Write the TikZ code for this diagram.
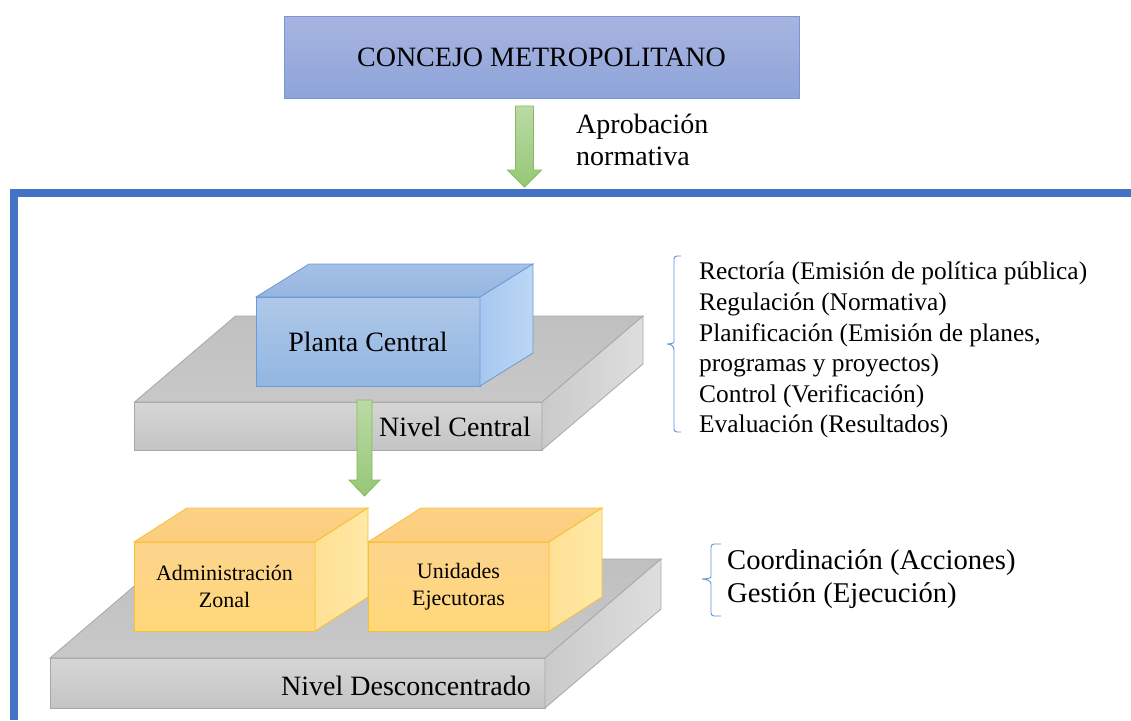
\documentclass[tikz,border=0pt]{standalone}
\usepackage{fontspec}
\setmainfont{Liberation Serif}
\usetikzlibrary{calc}
\definecolor{frameblue}{RGB}{68,114,196}
\definecolor{concejoTop}{RGB}{168,180,224}
\definecolor{concejoBot}{RGB}{142,164,217}
\definecolor{concejoLine}{RGB}{120,150,214}
\definecolor{arrowTop}{RGB}{187,218,166}
\definecolor{arrowBot}{RGB}{150,199,117}
\definecolor{arrowLine}{RGB}{130,188,95}
\definecolor{slabLine}{RGB}{168,168,168}
\definecolor{slabFrontTop}{RGB}{214,214,214}
\definecolor{slabFrontBot}{RGB}{196,196,196}
\definecolor{slabTopA}{RGB}{200,200,200}
\definecolor{slabTopB}{RGB}{192,192,192}
\definecolor{slabSideA}{RGB}{202,202,202}
\definecolor{slabSideB}{RGB}{222,222,222}
\definecolor{pcLine}{RGB}{105,155,215}
\definecolor{pcFrontTop}{RGB}{174,200,232}
\definecolor{pcFrontBot}{RGB}{146,182,226}
\definecolor{pcTopA}{RGB}{165,192,229}
\definecolor{pcTopB}{RGB}{150,182,224}
\definecolor{pcSideA}{RGB}{166,200,240}
\definecolor{pcSideB}{RGB}{188,214,245}
\definecolor{yLine}{RGB}{246,192,52}
\definecolor{yFrontTop}{RGB}{253,212,140}
\definecolor{yFrontBot}{RGB}{255,216,122}
\definecolor{yTopA}{RGB}{252,210,135}
\definecolor{yTopB}{RGB}{252,204,125}
\definecolor{ySideA}{RGB}{255,224,148}
\definecolor{ySideB}{RGB}{255,233,166}
\definecolor{braceBlue}{RGB}{91,146,212}
\begin{document}
\begin{tikzpicture}[x=1pt,y=-1pt,
  bigtext/.style={font=\fontsize{28}{32}\selectfont},
  topbox/.style={draw=concejoLine, line width=0.8pt, top color=concejoTop, bottom color=concejoBot,
    minimum width=515pt, minimum height=82pt, inner sep=0pt, outer sep=0pt, bigtext},
  greenarrow/.style={draw=arrowLine, line width=0.8pt, top color=arrowTop, bottom color=arrowBot},
  framestyle/.style={draw=frameblue, line width=8pt, line join=miter},
  slabfront/.style={draw=slabLine, line width=0.8pt, top color=slabFrontTop, bottom color=slabFrontBot},
  slabtop/.style={draw=slabLine, line width=0.8pt, top color=slabTopB, bottom color=slabTopA},
  slabside/.style={draw=slabLine, line width=0.8pt, left color=slabSideA, right color=slabSideB},
  pcfront/.style={draw=pcLine, line width=0.8pt, top color=pcFrontTop, bottom color=pcFrontBot,
    minimum width=224pt, minimum height=89pt, inner sep=0pt, outer sep=0pt, bigtext},
  pctop/.style={draw=pcLine, line width=0.8pt, top color=pcTopA, bottom color=pcTopB},
  pcside/.style={draw=pcLine, line width=0.8pt, left color=pcSideA, right color=pcSideB},
  yfront/.style={draw=yLine, line width=0.8pt, top color=yFrontTop, bottom color=yFrontBot,
    minimum width=181pt, minimum height=89pt, inner sep=0pt, outer sep=0pt, align=center,
    font=\fontsize{22}{27}\selectfont},
  ytop/.style={draw=yLine, line width=0.8pt, top color=yTopA, bottom color=yTopB},
  yside/.style={draw=yLine, line width=0.8pt, left color=ySideA, right color=ySideB},
  bracestyle/.style={draw=braceBlue, line width=0.9pt},
  listtext/.style={anchor=north west, align=left, inner sep=0pt}
]
\useasboundingbox (0,0) rectangle (1131,720);

% Concejo
\node[topbox] (concejo) at (541.5,57) {CONCEJO METROPOLITANO};

% frame
\path[framestyle] (1131,193) -- (13.5,193) -- (13.5,720);

% arrow 1
\path[greenarrow] (515.5,106) -- (533.5,106) -- (533.5,170) -- (541.5,170) -- (524.5,187)
  -- (507.5,170) -- (515.5,170) -- cycle;
\node[anchor=west, align=left, inner sep=0pt, bigtext] (aprob) at (576,139.5) {Aprobación\\normativa};

% Nivel central slab
\path[slabfront] (134.5,402) rectangle (542,450);
\path[slabtop] (134.5,402) -- (542,402) -- (643,316) -- (235.5,316) -- cycle;
\path[slabside] (542,402) -- (643,316) -- (643,364) -- (542,450) -- cycle;
\node[anchor=east, inner sep=0pt, bigtext] (nivcentral) at (531,427) {Nivel Central};

% Planta central box
\node[pcfront] (planta) at (368,341.5) {Planta Central};
\path[pctop] (planta.north west) -- (planta.north east) -- ++(53,-33) -- ($(planta.north west)+(53,-33)$) -- cycle;
\path[pcside] (planta.north east) -- ++(53,-33) -- ($(planta.south east)+(53,-33)$) -- (planta.south east) -- cycle;

% arrow 2
\path[greenarrow] (357,400) -- (372,400) -- (372,480) -- (380,480) -- (364.5,496)
  -- (349,480) -- (357,480) -- cycle;

% Nivel desconcentrado slab
\path[slabfront] (50,658) rectangle (545,708);
\path[slabtop] (50,658) -- (545,658) -- (661,559) -- (166,559) -- cycle;
\path[slabside] (545,658) -- (661,559) -- (661,609) -- (545,708) -- cycle;
\node[anchor=east, inner sep=0pt, bigtext] (nivdesc) at (531,686) {Nivel Desconcentrado};

% yellow boxes
\node[yfront] (admin) at (224.5,586.5) {Administración\\Zonal};
\path[ytop] (admin.north west) -- (admin.north east) -- ++(53,-34) -- ($(admin.north west)+(53,-34)$) -- cycle;
\path[yside] (admin.north east) -- ++(53,-34) -- ($(admin.south east)+(53,-34)$) -- (admin.south east) -- cycle;

\node[yfront] (unidades) at (458.5,586.5) {Unidades\\Ejecutoras};
\path[ytop] (unidades.north west) -- (unidades.north east) -- ++(53,-34) -- ($(unidades.north west)+(53,-34)$) -- cycle;
\path[yside] (unidades.north east) -- ++(53,-34) -- ($(unidades.south east)+(53,-34)$) -- (unidades.south east) -- cycle;

% brace 1 and list
\path[bracestyle] (681,256) [rounded corners=3pt] -- (674,256) -- (674,339) [sharp corners]
  .. controls (674,343) and (671,344) .. (667,344)
  .. controls (671,344) and (674,346) .. (674,350) [rounded corners=3pt] -- (674,432) -- (681,432);
\node[listtext, font=\fontsize{25.4}{30.6}\selectfont] (list1) at (699,262)
  {Rectoría (Emisión de política pública)\\Regulación (Normativa)\\Planificación (Emisión de planes,\\programas y proyectos)\\Control (Verificación)\\Evaluación (Resultados)};

% brace 2 and list
\path[bracestyle] (721,544) [rounded corners=3pt] -- (711,544) -- (711,574) [sharp corners]
  .. controls (711,578) and (707,579) .. (702,579)
  .. controls (707,579) and (711,581) .. (711,584) [rounded corners=3pt] -- (711,616) -- (721,616);
\node[listtext, font=\fontsize{28.6}{33}\selectfont] (list2) at (727,549)
  {Coordinación (Acciones)\\Gestión (Ejecución)};
\end{tikzpicture}
\end{document}
